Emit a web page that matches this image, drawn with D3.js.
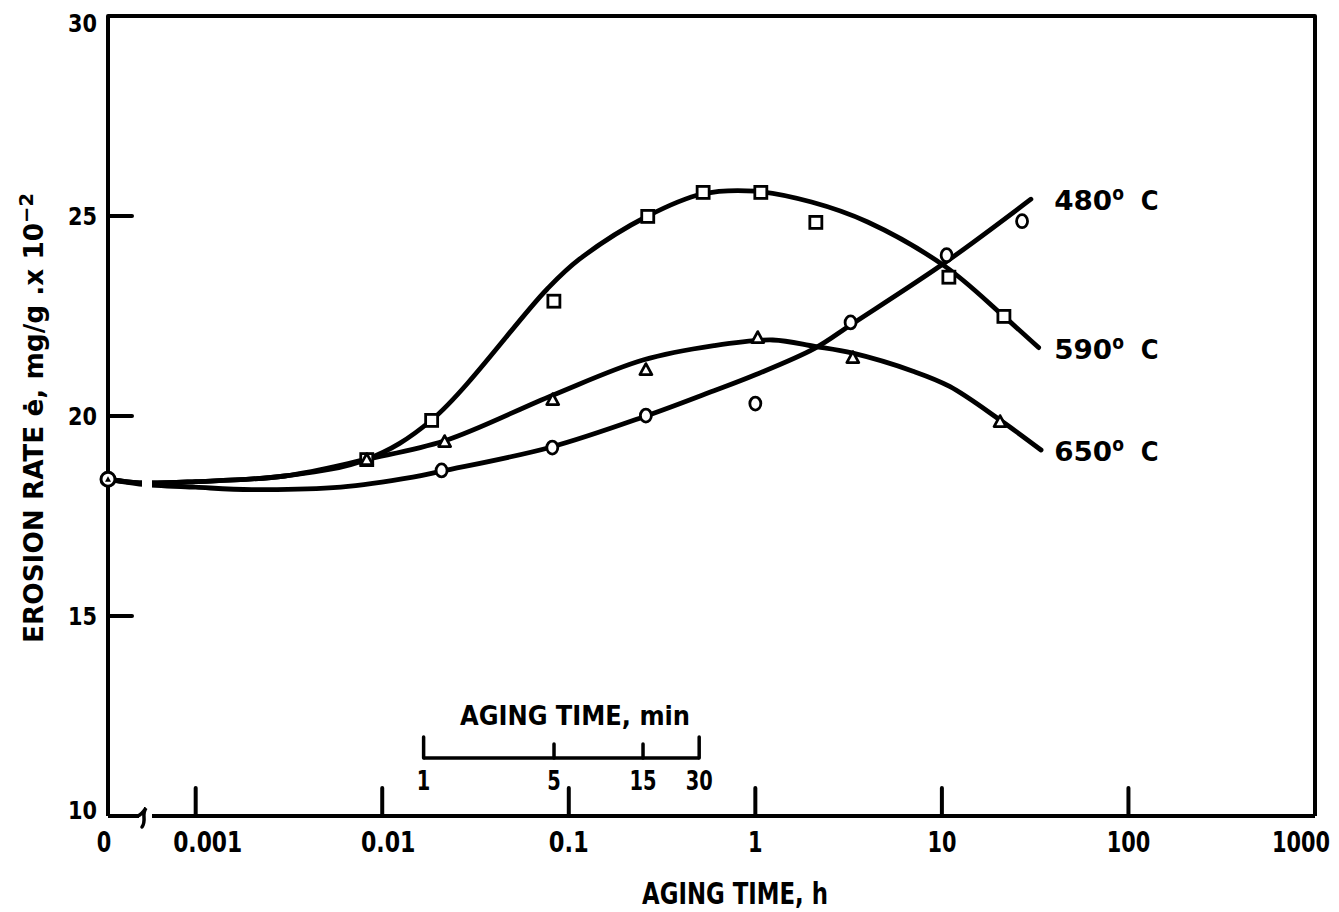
<!DOCTYPE html>
<html>
<head>
<meta charset="utf-8">
<script src="https://cdn.jsdelivr.net/npm/d3@7/dist/d3.min.js"></script>
<style>
  html, body { margin: 0; padding: 0; background: #fff; }
  svg { display: block; }
</style>
</head>
<body>
<svg id="chart" width="1339" height="912"></svg>
<script>
// ---------------- data ----------------
// aging time in hours (0 = unaged), erosion rate in mg/g x 10^-2
const xTickValues = [0.001, 0.01, 0.1, 1, 10, 100];
const xTickLabels = ["0", "0.001", "0.01", "0.1", "1", "10", "100", "1000"];
const xLabelValues = [0, 0.001, 0.01, 0.1, 1, 10, 100, 1000];
const yTickValues = [10, 15, 20, 25, 30];
const yTickLabels = ["10", "15", "20", "25", "30"];
const minuteTicks = [1, 5, 15, 30];
const minuteLabels = ["1", "5", "15", "30"];

const seriesNames = ["480", "590", "650"];

// measured points
const origin = [[0, 18.42]];
const circles480 = [[0.0208, 18.64], [0.0816, 19.21], [0.259, 20.01], [1.0, 20.31], [3.24, 22.34], [10.6, 24.02], [26.9, 24.87]];
const squares590 = [[0.00826, 18.91], [0.0184, 19.89], [0.0832, 22.87], [0.265, 24.99], [0.525, 25.59], [1.07, 25.59], [2.11, 24.84], [10.9, 23.47], [21.5, 22.49]];
const triangles650 = [[0.00826, 18.91], [0.0216, 19.36], [0.082, 20.41], [0.259, 21.16], [1.03, 21.96], [3.33, 21.46], [20.5, 19.86]];

// faired curves
const curve480 = [[0, 18.42], [0.0005, 18.3], [0.001, 18.22], [0.002, 18.16], [0.006, 18.22], [0.0146, 18.47], [0.0208, 18.62], [0.08, 19.22], [0.26, 20.0], [0.6, 20.63], [1, 21.03], [2.08, 21.69], [3.3, 22.3], [10.5, 23.85], [30, 25.42]];
const curve590 = [[0, 18.42], [0.0005, 18.33], [0.001, 18.36], [0.003, 18.5], [0.0083, 18.92], [0.0184, 19.9], [0.0764, 23.17], [0.114, 23.92], [0.265, 25.0], [0.52, 25.55], [1.0, 25.62], [2.0, 25.35], [4.0, 24.85], [10.4, 23.74], [21.5, 22.49], [33, 21.71]];
const curve650 = [[0, 18.42], [0.0005, 18.33], [0.001, 18.36], [0.003, 18.5], [0.0083, 18.92], [0.0216, 19.38], [0.082, 20.52], [0.25, 21.4], [0.6, 21.76], [1.24, 21.9], [2.08, 21.74], [3.33, 21.57], [7, 21.12], [11, 20.74], [20.5, 19.9], [34, 19.15]];

// ---------------- layout ----------------
const L = 108, R = 1315, T = 16, B = 816;
const breakX0 = 143, breakX1 = 152;
const FONT = "'DejaVu Sans Condensed','DejaVu Sans',sans-serif";

const svg = d3.select("#chart");

const x = d3.scaleLog().domain([Math.pow(10, -3.47), 1000]).range([L, R]);
const xpos = t => (t === 0 ? x.range()[0] : x(t));
const y = d3.scaleLinear().domain([10, 30]).range([B, T]);

// width helper for narrow, typewriter-like numerals
const numLen = (s, dw, pw) => s.split("").reduce((a, c) => a + (c === "." ? pw : dw), 0);

// ---------------- frame & axes ----------------
svg.append("path")
  .attr("d", `M${L},${B} V${T} H${R} V${B}`)
  .attr("fill", "none").attr("stroke", "#000").attr("stroke-width", 4)
  .attr("stroke-linejoin", "round");

svg.append("line").attr("x1", L).attr("x2", breakX0 - 4).attr("y1", B).attr("y2", B)
  .attr("stroke", "#000").attr("stroke-width", 4);
svg.append("line").attr("x1", breakX1).attr("x2", R).attr("y1", B).attr("y2", B)
  .attr("stroke", "#000").attr("stroke-width", 4);
// axis break squiggle
svg.append("path")
  .attr("d", `M${breakX0 - 5},${B} Q${breakX0 - 1},${B - 2} ${breakX0 + 3},${B - 8} C${breakX0 - 2},${B - 1} ${breakX0 + 4},${B + 4} ${breakX0 - 1},${B + 11}`)
  .attr("fill", "none").attr("stroke", "#000").attr("stroke-width", 3.5).attr("stroke-linecap", "round");

// x ticks (pointing up)
svg.selectAll(".xtick").data(xTickValues).enter().append("line")
  .attr("x1", d => x(d)).attr("x2", d => x(d))
  .attr("y1", B).attr("y2", B - 28)
  .attr("stroke", "#000").attr("stroke-width", 4).attr("stroke-linecap", "round");

// y ticks (pointing right)
svg.selectAll(".ytick").data(yTickValues.filter(v => v > 10 && v < 30)).enter().append("line")
  .attr("x1", L).attr("x2", L + 24)
  .attr("y1", d => y(d)).attr("y2", d => y(d))
  .attr("stroke", "#000").attr("stroke-width", 4).attr("stroke-linecap", "round");

// x tick labels
svg.selectAll(".xlab").data(xLabelValues).enter().append("text")
  .attr("x", (d, i) => xpos(d) + (d === 0 ? -4 : d === 0.001 ? 12 : d === 0.01 ? 6 : d === 1000 ? -14 : 0))
  .attr("y", B + 36)
  .attr("text-anchor", "middle")
  .attr("font-family", FONT).attr("font-weight", "bold").attr("font-size", 28)
  .attr("textLength", (d, i) => numLen(xTickLabels[i], 14.5, 11))
  .attr("lengthAdjust", "spacingAndGlyphs")
  .text((d, i) => xTickLabels[i]);

// y tick labels
svg.selectAll(".ylab").data(yTickValues).enter().append("text")
  .attr("x", 97)
  .attr("y", d => y(d) + (d === 30 ? 16 : d === 10 ? 3 : 9))
  .attr("text-anchor", "end")
  .attr("font-family", FONT).attr("font-weight", "bold").attr("font-size", 24)
  .attr("textLength", (d, i) => numLen(yTickLabels[i], 14.5, 8))
  .attr("lengthAdjust", "spacingAndGlyphs")
  .text((d, i) => yTickLabels[i]);

// x axis title
svg.append("text")
  .attr("x", 735).attr("y", 904)
  .attr("text-anchor", "middle")
  .attr("font-family", FONT).attr("font-weight", "bold").attr("font-size", 30)
  .attr("textLength", 186).attr("lengthAdjust", "spacingAndGlyphs")
  .text("AGING TIME, h");

// y axis title
const yt = svg.append("text")
  .attr("transform", "translate(43,418) rotate(-90)")
  .attr("text-anchor", "middle")
  .attr("font-family", FONT).attr("font-weight", "bold").attr("font-size", 27)
  .attr("textLength", 450).attr("lengthAdjust", "spacingAndGlyphs");
yt.append("tspan").text("EROSION RATE \u0117, mg/g .x 10");
yt.append("tspan").attr("dy", -10).attr("font-size", 20).text("\u22122");

// ---------------- inset minute scale ----------------
const insetY = 758;
const mx = m => x(m / 60);
svg.append("line")
  .attr("x1", mx(minuteTicks[0])).attr("x2", mx(minuteTicks[minuteTicks.length - 1]))
  .attr("y1", insetY).attr("y2", insetY)
  .attr("stroke", "#000").attr("stroke-width", 3.5);
svg.selectAll(".mtick").data(minuteTicks).enter().append("line")
  .attr("x1", d => mx(d)).attr("x2", d => mx(d))
  .attr("y1", insetY).attr("y2", (d, i) => (i === 0 || i === minuteTicks.length - 1) ? insetY - 21 : insetY - 14)
  .attr("stroke", "#000").attr("stroke-width", 3.5).attr("stroke-linecap", "round");
svg.selectAll(".mlab").data(minuteTicks).enter().append("text")
  .attr("x", d => mx(d)).attr("y", insetY + 32)
  .attr("text-anchor", "middle")
  .attr("font-family", FONT).attr("font-weight", "bold").attr("font-size", 27)
  .attr("textLength", (d, i) => numLen(minuteLabels[i], 13.5, 8))
  .attr("lengthAdjust", "spacingAndGlyphs")
  .text((d, i) => minuteLabels[i]);
svg.append("text")
  .attr("x", 575).attr("y", 725)
  .attr("text-anchor", "middle")
  .attr("font-family", FONT).attr("font-weight", "bold").attr("font-size", 27)
  .attr("textLength", 230).attr("lengthAdjust", "spacingAndGlyphs")
  .text("AGING TIME, min");

// ---------------- curves ----------------
const defs = svg.append("defs");
const clip = defs.append("clipPath").attr("id", "breakclip");
clip.append("rect").attr("x", 0).attr("y", 0).attr("width", breakX0 - 1).attr("height", 912);
clip.append("rect").attr("x", breakX1).attr("y", 0).attr("width", 1339 - breakX1).attr("height", 912);

const line = d3.line()
  .x(d => xpos(d[0])).y(d => y(d[1]))
  .curve(d3.curveCatmullRom.alpha(0.5));

const curveG = svg.append("g").attr("clip-path", "url(#breakclip)");
[curve480, curve590, curve650].forEach(c => {
  curveG.append("path").attr("d", line(c))
    .attr("fill", "none").attr("stroke", "#000").attr("stroke-width", 4.8)
    .attr("stroke-linecap", "round").attr("stroke-linejoin", "round");
});

// ---------------- markers ----------------
const mk = { fill: "#fff", stroke: "#000", sw: 2.8 };
svg.selectAll(".sq").data(squares590).enter().append("rect")
  .attr("x", d => xpos(d[0]) - 6).attr("y", d => y(d[1]) - 6)
  .attr("width", 12).attr("height", 12)
  .attr("fill", mk.fill).attr("stroke", mk.stroke).attr("stroke-width", mk.sw);
svg.selectAll(".tri").data(triangles650).enter().append("path")
  .attr("transform", d => `translate(${xpos(d[0])},${y(d[1])})`)
  .attr("d", "M0,-6 L6,5 L-6,5 Z")
  .attr("fill", mk.fill).attr("stroke", mk.stroke).attr("stroke-width", mk.sw).attr("stroke-linejoin", "round");
svg.selectAll(".cir").data(circles480).enter().append("ellipse")
  .attr("cx", d => xpos(d[0])).attr("cy", d => y(d[1]))
  .attr("rx", 5.5).attr("ry", 6.5)
  .attr("fill", mk.fill).attr("stroke", mk.stroke).attr("stroke-width", mk.sw);
// origin: common point (circle with triangle)
svg.selectAll(".orig").data(origin).enter().append("circle")
  .attr("cx", d => xpos(d[0])).attr("cy", d => y(d[1])).attr("r", 7)
  .attr("fill", mk.fill).attr("stroke", mk.stroke).attr("stroke-width", 3);
svg.selectAll(".origt").data(origin).enter().append("path")
  .attr("transform", d => `translate(${xpos(d[0])},${y(d[1])})`)
  .attr("d", "M0,-3 L3,2.5 L-3,2.5 Z")
  .attr("fill", "#000");

// ---------------- series labels ----------------
const ends = [curve480, curve590, curve650].map(c => c[c.length - 1]);
seriesNames.forEach((name, i) => {
  const t = svg.append("text")
    .attr("x", x(40)).attr("y", y(ends[i][1]) + 11)
    .attr("font-family", FONT).attr("font-weight", "bold").attr("font-size", 27);
  t.append("tspan").attr("textLength", 58).attr("lengthAdjust", "spacingAndGlyphs").text(name);
  t.append("tspan").attr("dy", -10).attr("font-size", 19).text("o");
  t.append("tspan").attr("dy", 10).text("\u00a0\u00a0C");
});
</script>
</body>
</html>
